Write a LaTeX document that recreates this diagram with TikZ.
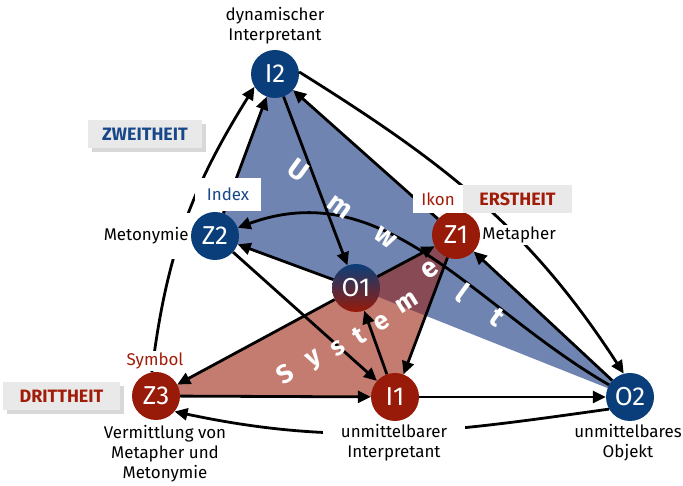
\documentclass[tikz,border=0pt]{standalone}
\usepackage{fontspec}
\setmainfont{Fira Sans}
\usetikzlibrary{arrows.meta,shadows}
\definecolor{nblue}{RGB}{10,62,122}
\definecolor{nred}{RGB}{152,26,8}
\definecolor{fblue}{RGB}{111,132,176}
\definecolor{fred}{RGB}{196,124,112}
\definecolor{fover}{RGB}{136,74,84}
\definecolor{tblue}{RGB}{25,72,138}
\definecolor{tred}{RGB}{160,28,8}
\definecolor{boxgray}{RGB}{233,233,233}
\begin{document}
\begin{tikzpicture}[x=1bp,y=1bp,
  sign/.style={circle, minimum size=48bp, inner sep=0pt, text=white, font=\fontsize{26}{26}\selectfont},
  bluesign/.style={sign, fill=nblue},
  redsign/.style={sign, fill=nred},
  conn/.style={line width=2.8bp, -{Triangle[length=13bp,width=12bp]}},
  lbl/.style={font=\fontsize{17}{20}\selectfont, align=center, inner sep=2bp},
  wlbl/.style={lbl, fill=white},
  catbox/.style={fill=boxgray, font=\bfseries\fontsize{18}{20}\selectfont, minimum height=28bp, inner sep=0pt},
  shadowbox/.style={catbox, drop shadow={shadow xshift=4bp, shadow yshift=-4bp, fill=black!30}},
  wletter/.style={text=white, font=\bfseries\fontsize{28}{28}\selectfont, inner sep=0pt},
  sletter/.style={wletter, font=\bfseries\fontsize{26}{26}\selectfont, rotate=32}
]
\useasboundingbox (0,0) rectangle (683,486);
\coordinate (cI2) at (275,412);
\coordinate (cZ2) at (215,250);
\coordinate (cZ1) at (456,251);
\coordinate (cO1) at (356,198);
\coordinate (cZ3) at (156,90);
\coordinate (cI1) at (395,89);
\coordinate (cO2) at (630,89);
% regions
\fill[fblue] (cI2) -- (cZ1) -- (cO2) -- (cO1) -- (cZ2) -- cycle;
\fill[fred] (cZ3) -- (cZ1) -- (cI1) -- cycle;
\begin{scope}
  \clip (cI2) -- (cZ1) -- (cO2) -- (cO1) -- (cZ2) -- cycle;
  \fill[fover] (cZ3) -- (cZ1) -- (cI1) -- cycle;
\end{scope}
% signs
\node[bluesign] (I2) at (cI2) {I2};
\node[bluesign] (Z2) at (cZ2) {Z2};
\node[redsign] (Z1) at (cZ1) {Z1};
\node[sign, top color=nblue, bottom color=nred] (O1) at (cO1) {O1};
\node[redsign] (Z3) at (cZ3) {Z3};
\node[redsign] (I1) at (cI1) {I1};
\node[bluesign] (O2) at (cO2) {O2};
% connectors
\draw[conn] (Z2) -- (I2);
\draw[conn] (Z1) -- (I2);
\draw[conn] (Z3.100) to[out=83,in=238] (I2.212);
\draw[conn] (I2) -- (O1);
\draw[conn] (I2.5) to[out=-32,in=123] (O2.105);
\draw[conn] (O1) -- (Z2);
\draw[conn] (O1) -- (Z1);
\draw[conn] (O1) -- (Z3);
\draw[conn] (Z2) -- (I1);
\draw[conn] (I1) -- (O1);
\draw[conn] (Z1) -- (I1);
\draw[conn] (Z3) -- (I1);
\draw[conn] (I1) -- (O2);
\draw[conn] (O2) -- (Z1);
\draw[conn] (O2) to[out=150,in=20] (Z2);
\draw[conn] (O2.210) to[out=188,in=-12] (Z3.-40);
% Umwelt / System letters
\node[wletter, rotate=-36] (u1) at (298,316) {U};
\node[wletter, rotate=-36] (u2) at (340,279) {m};
\node[wletter, rotate=-36] (u3) at (385,248) {w};
\node[wletter, rotate=38] (u4) at (430,216) {e};
\node[wletter, rotate=-36] (u5) at (463,193) {l};
\node[wletter, rotate=-36] (u6) at (497,169) {t};
\node[sletter] (s1) at (285,112) {S};
\node[sletter] (s2) at (315,125) {y};
\node[sletter] (s3) at (338,138) {s};
\node[sletter] (s4) at (359,150) {t};
\node[sletter] (s5) at (382,163) {e};
\node[sletter] (s6) at (407,183) {m};
% labels
\node[lbl] (lI2) at (275,460) {dynamischer\\Interpretant};
\node[shadowbox, text=tblue, minimum width=114bp] (zw) at (145,352) {ZWEITHEIT};
\node[wlbl, text=tblue, minimum width=66bp, minimum height=33bp] (idx) at (228,291.5) {Index};
\node[wlbl, anchor=east, minimum height=46bp] (meto) at (Z2.west) {Metonymie};
\node[wlbl, text=tred, minimum width=50bp, minimum height=28bp] (ikon) at (438,287) {Ikon};
\node[catbox, text=tred, minimum width=109bp] (erst) at (517.5,287) {ERSTHEIT};
\node[wlbl, anchor=west] (meta) at (Z1.east) {Metapher};
\node[wlbl, text=tred] (sym) at (155,125) {Symbol};
\node[shadowbox, text=tred, minimum width=117bp] (dritt) at (61.5,90) {DRITTHEIT};
\node[lbl] (verm) at (165,32) {Vermittlung von\\Metapher und\\Metonymie};
\node[wlbl, inner xsep=18bp] (unI) at (394,43) {unmittelbarer\\Interpretant};
\node[lbl] (unO) at (628,43) {unmittelbares\\Objekt};
\end{tikzpicture}
\end{document}
